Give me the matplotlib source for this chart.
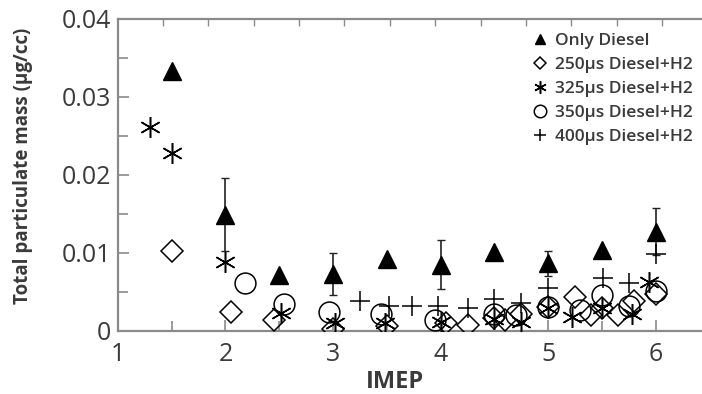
import numpy as np
import matplotlib
matplotlib.use('Agg')
import matplotlib.pyplot as plt

# Data
diesel_x = [1.5, 2.0, 2.5, 3.0, 3.5, 4.0, 4.5, 5.0, 5.5, 6.0]
diesel_y = [0.0333, 0.0149, 0.0072, 0.0073, 0.0092, 0.0085, 0.0101, 0.0087, 0.0104, 0.0127]
diesel_err = [0, 0.0047, 0, 0.0027, 0, 0.0031, 0, 0.0016, 0, 0.0030]

d250_x = [1.5, 2.05, 2.45, 3.0, 3.5, 4.05, 4.25, 4.5, 4.6, 4.75, 5.0, 5.25, 5.4, 5.5, 5.65, 5.8, 6.0]
d250_y = [0.0103, 0.0024, 0.0014, 0.0003, 0.0006, 0.0010, 0.0008, 0.0016, 0.0014, 0.0022, 0.0031, 0.0043, 0.0021, 0.0030, 0.0021, 0.0038, 0.0047]

d325_x = [1.3, 1.5, 2.0, 2.52, 3.02, 3.48, 4.0, 4.5, 4.75, 5.0, 5.22, 5.5, 5.78, 5.94]
d325_y = [0.0262, 0.0228, 0.0088, 0.0023, 0.0010, 0.0010, 0.0012, 0.0015, 0.0012, 0.0030, 0.0018, 0.0030, 0.0022, 0.0063]

d350_x = [2.18, 2.54, 2.96, 3.45, 3.95, 4.5, 4.7, 5.0, 5.3, 5.5, 5.75, 6.0]
d350_y = [0.0061, 0.0035, 0.0024, 0.0022, 0.0014, 0.0022, 0.0021, 0.0031, 0.0027, 0.0046, 0.0032, 0.0051]

d400_x = [3.25, 3.52, 3.73, 3.98, 4.25, 4.5, 4.75, 5.0, 5.51, 5.75, 6.0]
d400_y = [0.0038, 0.0032, 0.0032, 0.0032, 0.0030, 0.0041, 0.0036, 0.0055, 0.0068, 0.0062, 0.0099]

labels = ['Only Diesel', '250µs Diesel+H2', '325µs Diesel+H2',
          '350µs Diesel+H2', '400µs Diesel+H2']

plt.rcParams['font.family'] = ['Open Sans', 'DejaVu Sans']

fig = plt.figure(figsize=(7.02, 3.94), dpi=100)
ax = fig.add_axes([0.168, 0.160, 0.832, 0.792])

spine_col = '#8a8a8a'
txt_col = '#3a3a3a'

ax.errorbar(diesel_x, diesel_y, yerr=diesel_err, fmt='none', ecolor='#222222',
            elinewidth=1.2, capsize=3, capthick=1.0, zorder=2)
ax.plot(diesel_x, diesel_y, linestyle='none', marker='^', ms=12.5,
        color='black', label=labels[0], zorder=3)
ax.plot(d250_x, d250_y, linestyle='none', marker='D', ms=11, mfc='none',
        mec='black', mew=1.1, label=labels[1], zorder=3)
ax.plot(d325_x, d325_y, linestyle='none', marker=(6, 2, 0), ms=15,
        mec='black', mew=1.1, label=labels[2], zorder=3)
ax.plot(d350_x, d350_y, linestyle='none', marker='o', ms=15, mfc='none',
        mec='black', mew=1.1, label=labels[3], zorder=3)
ax.plot(d400_x, d400_y, linestyle='none', marker='+', ms=15,
        mec='black', mew=1.1, label=labels[4], zorder=3)

ax.set_xlim(1, 6.43)
ax.set_ylim(0, 0.04)
ax.set_xticks([1, 2, 3, 4, 5, 6])
ax.set_xticks(np.arange(1.5, 6.1, 1.0), minor=True)
ax.set_yticks([0, 0.01, 0.02, 0.03, 0.04])
ax.set_yticklabels(['0', '0.01', '0.02', '0.03', '0.04'])
ax.set_yticks([0.005, 0.015, 0.025, 0.035], minor=True)

ax.tick_params(axis='both', which='both', direction='in', colors=spine_col,
               labelcolor=txt_col, labelsize=18, width=1.2)
ax.tick_params(axis='both', which='major', length=8, pad=5)
ax.tick_params(axis='both', which='minor', length=7)
ax.tick_params(axis='x', which='major', pad=8)

for side in ['left', 'bottom', 'top']:
    ax.spines[side].set_color(spine_col)
    ax.spines[side].set_linewidth(1.6)
ax.spines['right'].set_visible(False)

# top axis has its own tick spacing in the original
top = ax.secondary_xaxis('top')
top.set_xticks(np.arange(1.418, 6.4, 0.422))
top.set_xticklabels([])
top.tick_params(direction='in', length=5, width=1.0, colors=spine_col)
top.spines['top'].set_visible(False)

ax.set_xlabel('IMEP', fontsize=17, fontweight='bold', color=txt_col)
ax.xaxis.set_label_coords(0.474, -0.125)
ax.set_ylabel('Total particulate mass (µg/cc)', fontsize=13.5, fontweight='bold',
              color=txt_col)
ax.yaxis.set_label_coords(-0.145, 0.53)

leg = ax.legend(loc='upper right', bbox_to_anchor=(1.005, 0.995), frameon=False,
                fontsize=12.5, handlelength=1.0, handletextpad=0.35,
                labelspacing=0.45, markerscale=0.6, borderaxespad=0.3)
for t in leg.get_texts():
    t.set_color(txt_col)
    t.set_fontweight('semibold')

fig.savefig('out.png', dpi=100)
